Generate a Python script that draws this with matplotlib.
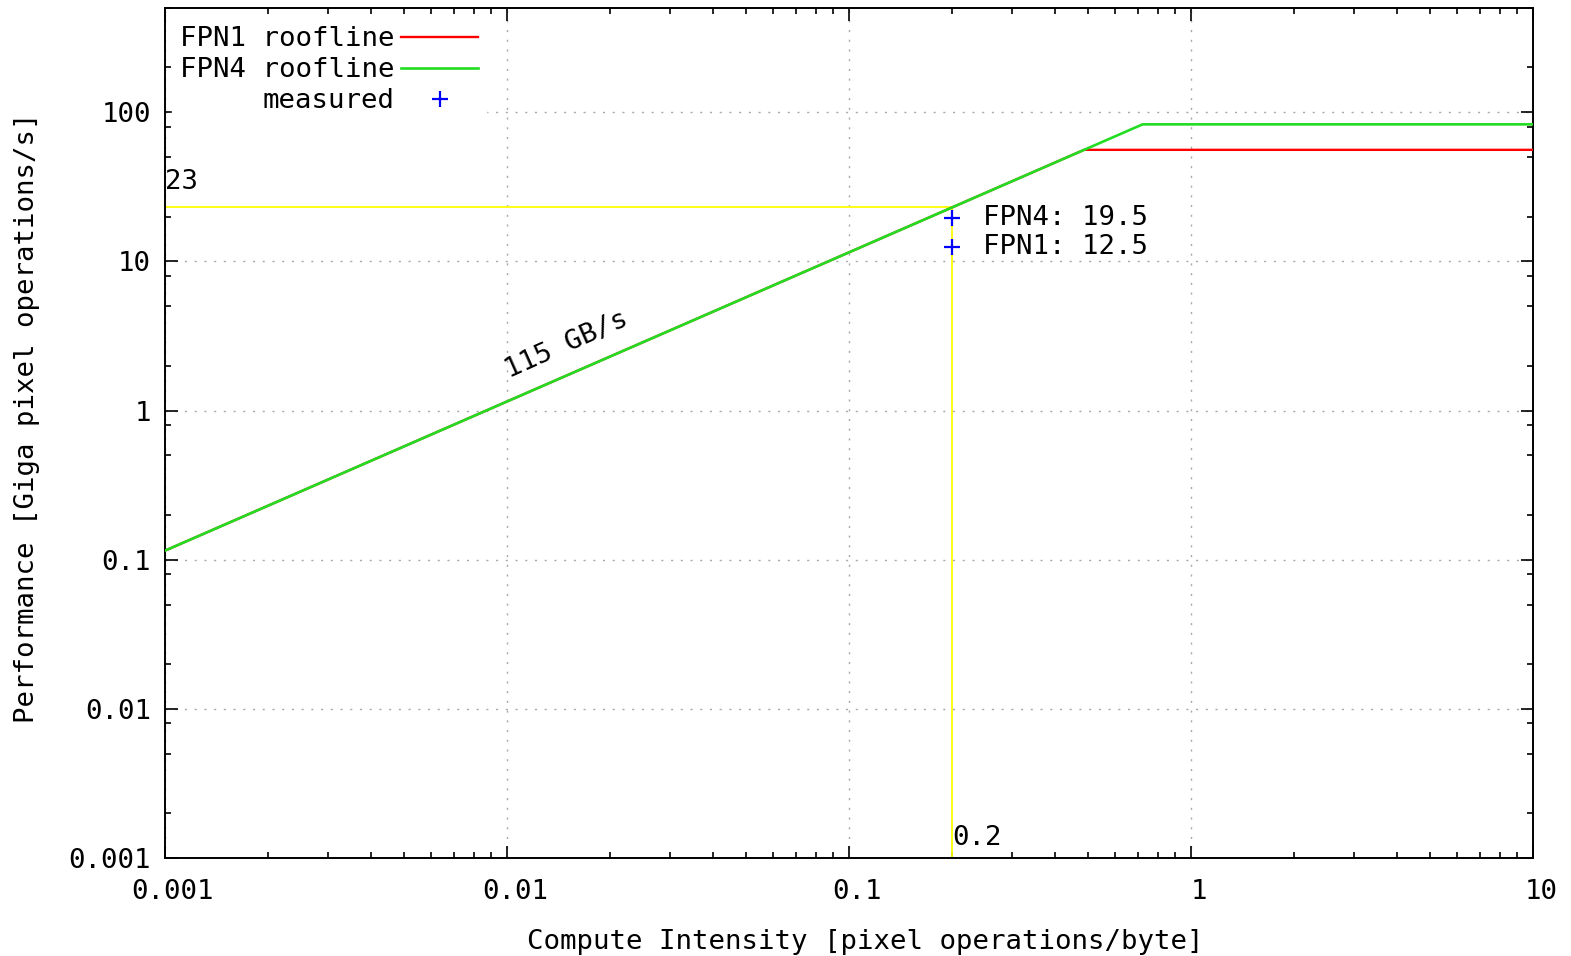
import numpy as np
import matplotlib
matplotlib.use("Agg")
import matplotlib.pyplot as plt
from matplotlib.ticker import LogLocator, FuncFormatter, NullFormatter
import matplotlib.transforms as mtransforms

plt.rcParams['font.family'] = ['DejaVu Sans Mono']
FS = 19.7

# Roofline data (compute intensity [pixel ops/byte] -> performance [Gpix ops/s])
fpn1_x = [0.001, 0.487, 10]
fpn1_y = [0.115, 56, 56]
fpn4_x = [0.001, 0.722, 10]
fpn4_y = [0.115, 83, 83]

# measured points
meas_x = [0.2, 0.2]
meas_y = [19.5, 12.5]
meas_labels = ['FPN4: 19.5', 'FPN1: 12.5']

# guide lines
guide_x = 0.2
guide_y = 23

fig = plt.figure(figsize=(15.71, 9.56), dpi=100)
ax = fig.add_axes([0.1050, 0.1025, 0.8708, 0.8891])
ax.set_xscale('log')
ax.set_yscale('log')
ax.set_xlim(0.001, 10)
ax.set_ylim(0.001, 500)

# grid (dotted, major only)
ax.grid(True, which='major', color='#a8a8a8', linestyle=(0, (1.5, 5.5)), lw=1.0)
ax.set_axisbelow(True)

# yellow guide lines
ax.plot([0.001, guide_x], [guide_y, guide_y], color='#ffff00', lw=1.3, zorder=2)
ax.plot([guide_x, guide_x], [0.001, guide_y], color='#ffff00', lw=1.3, zorder=2)
ax.text(0.001, guide_y * 1.22, '23', fontsize=FS, ha='left', va='bottom')
ax.text(guide_x, 0.00112, '0.2', fontsize=FS, ha='left', va='bottom')

# rooflines
ax.plot(fpn1_x, fpn1_y, color='#ff0000', lw=1.7, label='FPN1 roofline', zorder=3)
ax.plot(fpn4_x, fpn4_y, color='#22dd22', lw=1.9, label='FPN4 roofline', zorder=3)

# measured
ax.plot(meas_x, meas_y, '+', color='#0000ff', ms=11, mew=1.6, label='measured', zorder=4)
for xv, yv, lab in zip(meas_x, meas_y, meas_labels):
    ax.annotate(lab, (xv, yv), xytext=(31, 0), textcoords='offset pixels',
                fontsize=FS, ha='left', va='center')

ax.text(0.0149, 2.75, '115 GB/s', fontsize=FS, rotation=24,
        ha='center', va='center', rotation_mode='anchor')

# ticks
fmt = FuncFormatter(lambda v, p: '%g' % v)
ax.xaxis.set_major_locator(LogLocator(base=10, numticks=20))
ax.xaxis.set_minor_locator(LogLocator(base=10, subs=range(2, 10), numticks=20))
ax.yaxis.set_major_locator(LogLocator(base=10, numticks=20))
ax.yaxis.set_minor_locator(LogLocator(base=10, subs=(2, 5, 8), numticks=20))
ax.xaxis.set_major_formatter(fmt)
ax.yaxis.set_major_formatter(fmt)
ax.xaxis.set_minor_formatter(NullFormatter())
ax.yaxis.set_minor_formatter(NullFormatter())
ax.tick_params(which='both', direction='in', top=True, right=True, width=1.2, labelsize=FS)
ax.tick_params(which='major', length=9)
ax.tick_params(which='minor', length=4.5)
ax.tick_params(axis='x', pad=15)
ax.tick_params(axis='y', pad=10)
for s in ax.spines.values():
    s.set_linewidth(1.4)

offset = mtransforms.ScaledTranslation(8 / 100, 0, fig.dpi_scale_trans)
for lab in ax.get_xticklabels():
    lab.set_transform(lab.get_transform() + offset)

ax.set_xlabel('Compute Intensity [pixel operations/byte]', fontsize=FS)
ax.set_ylabel('Performance [Giga pixel operations/s]', fontsize=FS)
ax.xaxis.set_label_coords(0.5117, -0.084)
ax.yaxis.set_label_coords(-0.0914, 0.5176)

leg = ax.legend(loc='upper left', bbox_to_anchor=(0.005, 0.988), markerfirst=False,
                fontsize=FS, frameon=True, fancybox=False, framealpha=1,
                edgecolor='white', facecolor='white', borderpad=0.3,
                labelspacing=0.18, handlelength=2.8, handletextpad=0.25,
                borderaxespad=0)

fig.savefig('out.png', dpi=100)
